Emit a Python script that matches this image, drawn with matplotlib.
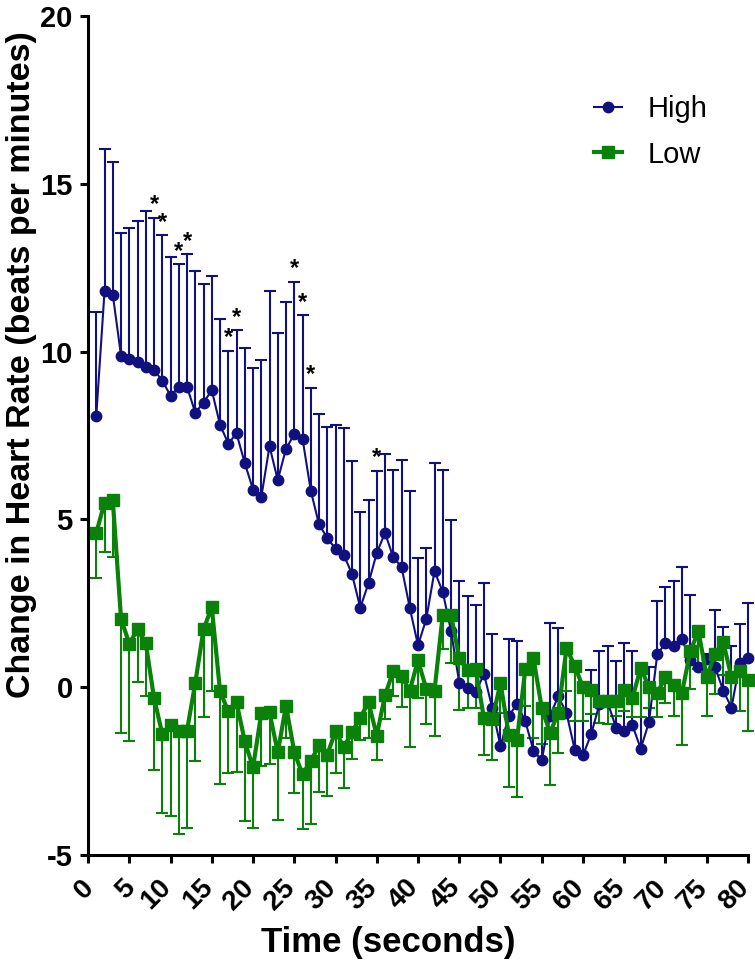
import numpy as np
import matplotlib.pyplot as plt
import matplotlib.transforms as mtransforms

plt.rcParams['font.family'] = ['Liberation Sans', 'DejaVu Sans']
plt.rcParams['axes.unicode_minus'] = False

# time points, seconds
time_s = np.arange(1, 81)

# High group: mean and top of the error bar
high_mean = [8.09, 11.8, 11.7, 9.88, 9.78, 9.70, 9.55, 9.46, 9.13, 8.69,
             8.95, 8.95, 8.18, 8.48, 8.85, 7.82, 7.26, 7.56, 6.68, 5.89,
             5.66, 7.18, 6.17, 7.11, 7.53, 7.41, 5.86, 4.85, 4.45, 4.12,
             3.95, 3.37, 2.37, 3.10, 4.00, 4.60, 3.87, 3.59, 2.37, 1.25,
             2.03, 3.46, 2.84, 1.68, 0.13, -0.03, -0.14, 0.39, -0.62, -1.76,
             -0.86, -0.50, -1.01, -1.89, -2.18, -0.85, -0.27, -0.77, -1.86, -2.03,
             -1.39, -0.50, -0.45, -1.21, -1.31, -1.14, -1.83, -1.04, 0.98, 1.31,
             1.22, 1.43, 0.80, 0.60, 0.85, 0.60, -0.10, -0.61, 0.72, 0.86]
high_top = [11.17, 16.03, 15.65, 13.53, 13.68, 13.90, 14.18, 13.98, 13.46, 12.81,
            12.60, 12.90, 12.40, 12.00, 12.24, 10.97, 10.03, 10.63, 10.10, 9.52,
            9.74, 11.82, 10.56, 11.49, 12.07, 11.08, 8.91, 8.13, 7.75, 7.81,
            7.73, 6.74, 5.22, 5.59, 6.44, 6.94, 6.47, 6.77, 5.86, 3.85,
            4.15, 6.67, 6.46, 4.98, 3.16, 2.71, 2.45, 3.12, 1.60, 0.10,
            1.43, 1.38, 0.60, 0.90, -0.60, 1.92, 1.77, 1.10, 0.60, 0.00,
            0.50, 1.07, 1.22, 0.78, 1.32, 1.07, 0.50, 0.60, 2.58, 2.99,
            3.16, 3.59, 2.74, 1.50, 1.00, 2.29, 1.80, 1.22, 1.89, 2.51]

# Low group: mean and bottom of the error bar
low_mean = [4.60, 5.50, 5.58, 2.04, 1.30, 1.72, 1.31, -0.32, -1.39, -1.12,
            -1.29, -1.29, 0.13, 1.72, 2.39, -0.12, -0.72, -0.45, -1.61, -2.39,
            -0.78, -0.75, -1.94, -0.55, -1.93, -2.60, -2.20, -1.73, -2.01, -1.31,
            -1.79, -1.34, -0.91, -0.45, -1.44, -0.24, 0.48, 0.33, -0.10, 0.80,
            -0.05, -0.10, 2.16, 2.16, 0.86, 0.50, 0.53, -0.93, -0.96, 0.13,
            -1.41, -1.56, 0.53, 0.86, -0.62, -1.36, -0.77, 1.17, 0.63, 0.00,
            -0.07, -0.40, -0.40, -0.42, -0.07, -0.32, 0.58, 0.00, -0.17, 0.30,
            0.06, -0.17, 1.07, 1.67, 0.30, 0.99, 1.34, 0.30, 0.48, 0.23]
low_bottom = [3.26, 4.03, 3.87, -1.37, -1.59, 0.15, -0.25, -2.47, -3.76, -3.85,
              -4.38, -4.20, -2.19, -0.90, -0.10, -2.89, -2.57, -2.52, -3.98, -4.20,
              -2.34, -2.29, -3.97, -1.50, -3.15, -4.22, -4.07, -3.13, -3.23, -2.57,
              -3.00, -2.13, -1.56, -1.51, -2.18, -0.96, -0.25, -0.60, -1.78, -0.32,
              -1.09, -1.46, 1.15, 0.72, -0.69, -0.62, -0.62, -2.03, -2.16, -0.77,
              -2.97, -3.28, -0.57, -1.51, -1.70, -2.92, -1.96, -0.12, -1.01, -1.01,
              -0.80, -1.06, -1.10, -0.85, -0.70, -0.90, -0.90, -0.62, -0.90, -0.47,
              -0.87, -1.71, -0.04, 0.55, -0.87, -0.20, 0.35, -0.60, -0.70, -1.31]

# significant time points (asterisks above High)
star_times = [8, 9, 11, 12, 17, 18, 25, 26, 27, 35]

blue = '#10107F'
green = '#0A820A'

high_mean = np.array(high_mean)
high_top = np.array(high_top)
low_mean = np.array(low_mean)
low_bottom = np.array(low_bottom)
zeros = np.zeros(len(time_s))

fig = plt.figure(figsize=(7.55, 9.68), dpi=100)
ax = fig.add_axes([0.1166, 0.1167, 0.8741, 0.8668])

eb_h = ax.errorbar(time_s, high_mean, yerr=[zeros, high_top - high_mean],
                   color=blue, marker='o', ms=7.5, lw=1.5,
                   elinewidth=1.5, capsize=4.5, capthick=1.5, clip_on=False)
eb_h[1][0].set_visible(False)  # только верхние усы

eb_l = ax.errorbar(time_s, low_mean, yerr=[low_mean - low_bottom, zeros],
                   color=green, marker='s', ms=8.5, lw=3,
                   elinewidth=1.5, capsize=4.5, capthick=1.5, clip_on=False)
eb_l[1][1].set_visible(False)  # только нижние усы

for t in star_times:
    ax.text(t, high_top[t - 1] + 0.2, '*', ha='center', va='baseline',
            fontsize=17, fontweight='bold')

ax.legend([eb_h[0], eb_l[0]], ['High', 'Low'], loc='upper left',
          bbox_to_anchor=(0.727, 0.937), frameon=False, fontsize=21,
          handlelength=0.95, handletextpad=0.9, labelspacing=0.6)

ax.set_xlim(0, 80)
ax.set_ylim(-5, 20)
ax.set_xticks(np.arange(0, 81, 5))
ax.set_yticks(np.arange(-5, 21, 5))

ax.spines['top'].set_visible(False)
ax.spines['right'].set_visible(False)
for s in ['left', 'bottom']:
    ax.spines[s].set_linewidth(2.2)

ax.tick_params(direction='out', length=6, width=2.2, labelsize=20)
ax.tick_params(axis='x', pad=8)
ax.tick_params(axis='y', pad=5, labelsize=21)
# подписи по x повернуты и чуть сдвинуты влево
for lab in ax.get_xticklabels():
    dx = -4 if len(lab.get_text()) == 1 else -14
    shift = mtransforms.ScaledTranslation(dx / 100, 0, fig.dpi_scale_trans)
    lab.set_rotation(45)
    lab.set_ha('center')
    lab.set_fontweight('bold')
    lab.set_transform(lab.get_transform() + shift)
plt.setp(ax.get_yticklabels(), fontweight='bold')

ax.set_xlabel('Time (seconds)', fontsize=25, fontweight='bold')
ax.set_ylabel('Change in Heart Rate (beats per minutes)', fontsize=24.5,
              fontweight='bold')
ax.xaxis.set_label_coords(0.455, -0.085)
ax.yaxis.set_label_coords(-0.078, 0.584)

fig.savefig('out.png', dpi=100)
